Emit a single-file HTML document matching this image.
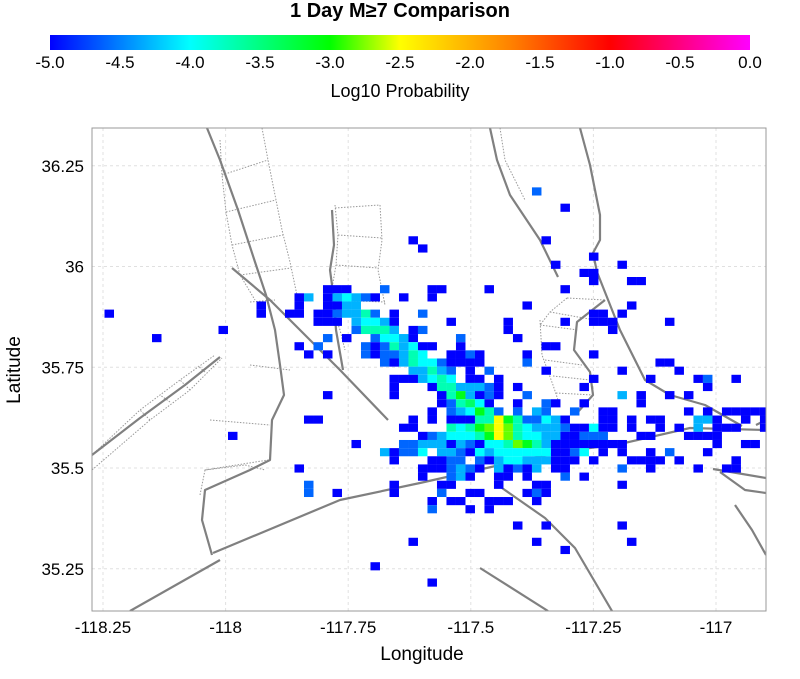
<!DOCTYPE html>
<html><head><meta charset="utf-8">
<style>
html,body{margin:0;padding:0;background:#fff;}
body{width:800px;height:674px;overflow:hidden;font-family:"Liberation Sans",Arial,sans-serif;}
svg text{font-family:"Liberation Sans",Arial,sans-serif;}
</style></head>
<body>
<svg id="chart" width="800" height="674" viewBox="0 0 800 674" xmlns="http://www.w3.org/2000/svg">
  <defs>
    <linearGradient id="cbar" x1="0" x2="1" y1="0" y2="0">
      <stop offset="0" stop-color="#0000ff"/>
      <stop offset="0.1" stop-color="#0080ff"/>
      <stop offset="0.2" stop-color="#00ffff"/>
      <stop offset="0.4" stop-color="#00ff00"/>
      <stop offset="0.5" stop-color="#ffff00"/>
      <stop offset="0.66" stop-color="#ff8000"/>
      <stop offset="0.8" stop-color="#ff0000"/>
      <stop offset="1" stop-color="#ff00ff"/>
    </linearGradient>
    <clipPath id="plotclip"><rect x="92" y="128" width="674" height="483"/></clipPath>
  </defs>
  <text x="400" y="17" text-anchor="middle" font-size="20" font-weight="bold">1 Day M≥7 Comparison</text>
  <rect x="50" y="35" width="700" height="15" fill="url(#cbar)"/>
  <g id="cbticks"></g>
  <text x="400" y="97" text-anchor="middle" font-size="18">Log10 Probability</text>
  <g id="grid"></g>
  <g id="basemap" clip-path="url(#plotclip)" fill="none">
    <g stroke="#999" stroke-width="1" stroke-dasharray="1.5,1.5">
      <polyline points="220,140 222,175 226,212 232,245 240,275 255,300"/>
      <polyline points="262,128 268,160 275,195 282,230 290,262 298,300"/>
      <polyline points="222,175 268,160 M0,0"/>
      <polyline points="226,212 276,200"/><polyline points="232,245 283,235"/><polyline points="240,275 291,268"/>
      <polyline points="335,205 338,235 336,265 330,300 340,330 345,350"/>
      <polyline points="380,205 382,240 378,270 385,305"/>
      <polyline points="335,208 380,205"/><polyline points="338,235 382,238"/><polyline points="336,265 378,268"/><polyline points="330,300 385,302"/>
      <polyline points="250,302 275,300 M0,0"/>
      <polyline points="540,320 542,355 553,385 558,400 548,410"/>
      <polyline points="567,298 605,300"/><polyline points="550,312 595,320"/><polyline points="540,325 578,330"/><polyline points="545,360 582,365"/><polyline points="553,376 590,380"/><polyline points="556,393 593,395"/><polyline points="567,298 550,312 540,325"/>
      <polyline points="92,470 150,420 190,390 222,358"/>
      <polyline points="92,455 140,410 180,380 215,355"/>
      <polyline points="150,420 140,410"/><polyline points="170,402 160,395"/><polyline points="190,390 180,380"/><polyline points="205,372 198,366"/>
      <polyline points="500,128 505,160 520,190 525,200"/>
      <polyline points="200,495 205,470 245,465 265,470"/>
      <polyline points="210,420 270,425"/><polyline points="205,470 268,460"/><polyline points="250,365 290,370"/>
    </g>
    <g stroke="#808080" stroke-width="2.2" stroke-linejoin="round">
      <polyline points="207,128 220,160 238,210 255,262 266,295 275,330 280,365 284,395 272,420 270,460 250,470 205,490 202,520 212,555"/>
      <polyline points="232,268 270,300 300,330 340,370 388,420"/>
      <polyline points="332,210 334,245 330,270 334,300 336,330 343,370"/>
      <polyline points="213,553 340,500 420,483 500,465 560,452 620,444 690,428 766,430"/>
      <polyline points="92,455 140,418 185,385 220,357"/>
      <polyline points="130,611 220,560"/>
      <polyline points="490,128 497,160 510,195 540,240 558,277"/>
      <polyline points="580,128 590,165 600,215 600,240 593,253 597,272 620,330 645,380 670,395 705,405 742,426"/>
      <polyline points="605,300 577,322 574,350 590,372 593,395 577,413"/>
      <polyline points="502,488 545,518 575,548 612,611"/>
      <polyline points="480,568 548,611"/>
      <polyline points="713,469 766,478"/>
      <polyline points="720,472 745,490 766,493"/>
      <polyline points="735,505 752,530 766,555"/>
      <polyline points="756,425 766,420"/>
    </g>
  </g>
  <g id="cells" clip-path="url(#plotclip)"></g>
  <rect x="92" y="128" width="674" height="483" fill="none" stroke="#999" stroke-width="1"/>
  <g id="axes"></g>
  <text x="422" y="660" text-anchor="middle" font-size="19">Longitude</text>
  <text x="0" y="0" transform="translate(20,370) rotate(-90)" text-anchor="middle" font-size="19">Latitude</text>
</svg>
<script>
// ---- chart data ----
const xTickValues = [-118.25, -118, -117.75, -117.5, -117.25, -117];
const xTickLabels = ["-118.25", "-118", "-117.75", "-117.5", "-117.25", "-117"];
const yTickValues = [36.25, 36, 35.75, 35.5, 35.25];
const yTickLabels = ["36.25", "36", "35.75", "35.5", "35.25"];
const cbTickValues = [-5, -4.5, -4, -3.5, -3, -2.5, -2, -1.5, -1, -0.5, 0];
const cbTickLabels = ["-5.0","-4.5","-4.0","-3.5","-3.0","-2.5","-2.0","-1.5","-1.0","-0.5","0.0"];
// grid definition (degrees)
const gridLon0 = -118.2663;   // west edge of column 0
const gridLat0 = 36.3379;     // north edge of row 0
const gridDLon = 0.01937;
const gridDLat = 0.02022;
// value codes -> log10 probability
const codeLetters = ["b","B","c","C","t","g","G","y","Y"];
const codeValues  = [-5.0,-4.6,-4.3,-4.0,-3.7,-3.4,-3.1,-2.8,-2.5];
// rows: "row: col+code ..."
const cellRows = [
"7: 46B","9: 49b","13: 33b 47b","14: 34b","15: 52b","16: 48b 55b","17: 51b 52b","18: 52b 56b 57b",
"19: 24b 25b 26b 30B 35b 36b 41b 49b",
"20: 21b 22c 24b 25c 26C 27c 28B 29b 32b 35b",
"21: 17b 21b 24b 25b 26c 27c 45b 56b",
"22: 1b 17b 20b 21b 23b 24b 25B 26c 27c 28t 29B 31b 34B 52b 53b 55b",
"23: 23b 24b 25b 27c 28C 29C 30c 31b 37b 43b 49b 52b 53b 54b 60b",
"24: 13b 27B 28t 29t 30t 31c 33b 34B 43b 54b",
"25: 6b 24B 26b 29B 30C 31C 32c 33b 38B 44b",
"26: 21b 23B 28B 29b 30B 31t 32c 33C 34b 35b 38b 47b 48b",
"27: 22b 24b 28B 29b 30B 31B 32c 33t 34C 37b 38b 39B 40b 45b 52b",
"28: 30B 31b 32c 33t 34C 35C 36B 37b 38b 39b 40b 45B 59b 60b",
"29: 33c 34c 35t 36c 37B 39b 41B 47b 55b 61b",
"30: 31b 32b 33b 34c 35C 36t 37C 39b 40b 42b 52b 58b 63b 64B 67b",
"31: 31b 35b 36t 37t 38c 39c 40c 41B 42b 44b 51b 64b",
"32: 24b 31b 36b 37t 38G 39c 40b 41B 42b 45B 55c 57b 60b 62b",
"33: 36b 37B 38t 39g 40C 41b 44b 47B 48b 51b 57b",
"34: 35b 37B 38c 39C 40G 41t 42B 44B 46c 47B 50B 53b 54b 62b 64b 66b 67b 68b 69b 70b",
"35: 22b 23b 33b 35b 37b 38b 39b 40t 41t 42Y 43G 44t 45B 46B 47C 48c 49b 53b 54b 56b 58b 59b 63c 64c 65b 68b 70b",
"36: 32b 33b 37t 38C 39t 40G 41y 42Y 43y 44t 45C 46c 47c 48c 49B 50b 51b 52C 53b 54b 56b 59b 61b 63c 65b 66b 67b 70b",
"37: 14b 34b 35B 36c 37C 38C 39C 40t 41G 42Y 43y 44t 45C 46C 47c 48c 49b 50b 51B 52B 53B 57b 58b 62b 63b 64b 65b",
"38: 27b 32B 33B 34c 35c 36c 37b 38c 39B 40b 41C 42C 43t 44y 45G 46t 47c 48b 49b 50b 51b 52b 53b 54b 55b 65b 68b 69b",
"39: 30c 31b 32B 33B 34C 36c 37c 38B 39b 40C 41c 42C 43C 44C 45C 46C 47C 48b 49b 50B 51C 53b 55b 58b 60B 64b",
"40: 31b 35b 36b 37B 38B 40B 41b 42c 43C 44C 45c 46c 47c 48b 49b 50b 52b 56b 57b 58b 59b 61b 67b",
"41: 21b 34b 35b 36b 37B 38c 39B 40b 42c 43b 44B 45b 46c 48b 49b 55B 58b 63b 66b 67b",
"42: 34b 37B 38c 39b 42b 43b 45b 49B 51b",
"43: 22B 31b 36b 37b 42b 46b 47b 55b",
"44: 22B 25b 31b 36B 39b 40b 45b 46B 47b",
"45: 35b 37b 38b 41b 42b 43b 46b",
"46: 35B 39b 41b",
"48: 44b 47b 55b","50: 33b 46b 56b","51: 49b","53: 29b","55: 35b"
];
// decoded cell arrays (cell centre lon/lat, log10 probability)
const cellLon = [];
const cellLat = [];
const cellLogP = [];
cellRows.forEach(function(rs){
  const parts = rs.split(":");
  const r = parseInt(parts[0], 10);
  parts[1].trim().split(/\s+/).forEach(function(tok){
    const c = parseInt(tok, 10);
    const code = tok.replace(/[0-9]/g, "");
    cellLon.push(gridLon0 + (c + 0.5) * gridDLon);
    cellLat.push(gridLat0 - (r + 0.5) * gridDLat);
    cellLogP.push(codeValues[codeLetters.indexOf(code)]);
  });
});

// ---- axis functions ----
function xScale(lon){ return 103 + (lon + 118.25) * 490.4; }
function yScale(lat){ return 468 - (lat - 35.5) * 403; }
function cbScale(v){ return 50 + (v + 5) / 5 * 700; }
const colorStops = [[-5,[0,0,255]],[-4.5,[0,128,255]],[-4,[0,255,255]],[-3,[0,255,0]],[-2.5,[255,255,0]],[-1.7,[255,128,0]],[-1,[255,0,0]],[0,[255,0,255]]];
function colorFor(v){
  for (let i = 0; i < colorStops.length - 1; i++){
    const a = colorStops[i], b = colorStops[i+1];
    if (v <= b[0]){
      const t = Math.max(0, (v - a[0]) / (b[0] - a[0]));
      const c = a[1].map(function(x, k){ return Math.round(x + (b[1][k] - x) * t); });
      return "rgb(" + c.join(",") + ")";
    }
  }
  return "rgb(255,0,255)";
}
const NS = "http://www.w3.org/2000/svg";
function mk(tag, attrs, parent){
  const e = document.createElementNS(NS, tag);
  for (const k in attrs) e.setAttribute(k, attrs[k]);
  parent.appendChild(e);
  return e;
}

// colorbar ticks
const cbG = document.getElementById("cbticks");
cbTickValues.forEach(function(v, i){
  const t = mk("text", {x: cbScale(v), y: 68, "text-anchor": "middle", "font-size": "17"}, cbG);
  
  
  t.textContent = cbTickLabels[i];
});

// grid + axis ticks
const gridG = document.getElementById("grid");
const axG = document.getElementById("axes");
xTickValues.forEach(function(v, i){
  const x = xScale(v);
  const gl = mk("line", {x1: x, x2: x, y1: 128, y2: 611, stroke: "#e0e0e0", "stroke-dasharray": "3,3"}, gridG);
  
  
  const t = mk("text", {x: x, y: 633, "text-anchor": "middle", "font-size": "17"}, axG);
  
  
  t.textContent = xTickLabels[i];
});
yTickValues.forEach(function(v, i){
  const y = yScale(v);
  const gl = mk("line", {x1: 92, x2: 766, y1: y, y2: y, stroke: "#e0e0e0", "stroke-dasharray": "3,3"}, gridG);
  
  
  const t = mk("text", {x: 84, y: y + 6, "text-anchor": "end", "font-size": "17"}, axG);
  
  
  t.textContent = yTickLabels[i];
});

// heatmap cells
const cellG = document.getElementById("cells");
const cw = gridDLon * 490.4, ch = gridDLat * 403;
for (let i = 0; i < cellLon.length; i++){
  const r = mk("rect", {
    x: (xScale(cellLon[i]) - cw / 2).toFixed(2),
    y: (yScale(cellLat[i]) - ch / 2).toFixed(2),
    width: cw.toFixed(2), height: ch.toFixed(2),
    fill: colorFor(cellLogP[i])
  }, cellG);
  
  
}
</script>
</body></html>
